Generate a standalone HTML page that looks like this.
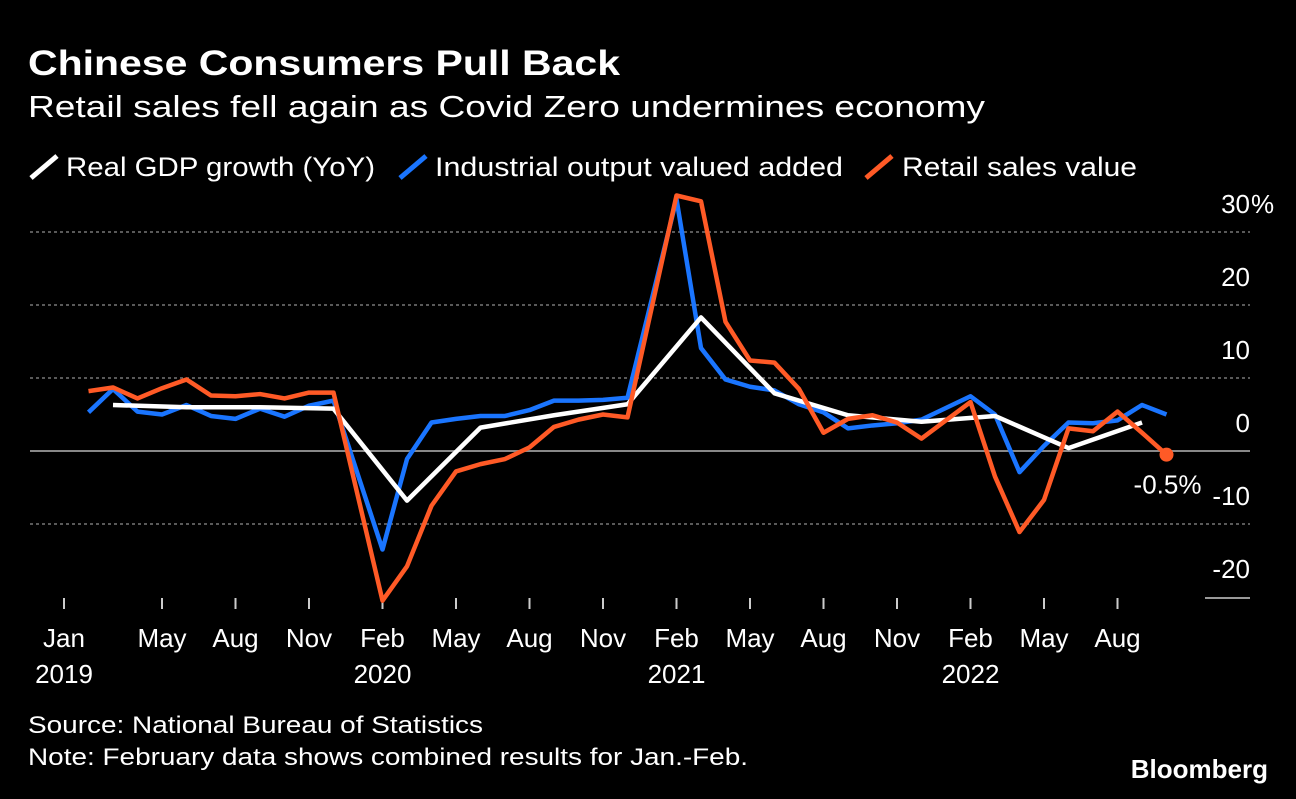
<!DOCTYPE html>
<html><head><meta charset="utf-8"><style>
body{margin:0;background:#000;width:1296px;height:794px;overflow:hidden;font-family:"Liberation Sans",sans-serif;color:#fff}
svg text{font-family:"Liberation Sans",sans-serif;fill:#fff}
</style></head><body>
<svg width="1296" height="794">
<text x="28" y="75" font-size="35" font-weight="bold" textLength="592" lengthAdjust="spacingAndGlyphs">Chinese Consumers Pull Back</text>
<text x="28" y="117" font-size="31" textLength="957" lengthAdjust="spacingAndGlyphs">Retail sales fell again as Covid Zero undermines economy</text>
<g font-size="27">
<line x1="31" y1="178" x2="57" y2="156" stroke="#fff" stroke-width="5"/>
<text x="66" y="176" textLength="309" lengthAdjust="spacingAndGlyphs">Real GDP growth (YoY)</text>
<line x1="400" y1="178" x2="426" y2="156" stroke="#1a75ff" stroke-width="5"/>
<text x="435" y="176" textLength="408" lengthAdjust="spacingAndGlyphs">Industrial output valued added</text>
<line x1="866" y1="178" x2="892" y2="156" stroke="#ff5a26" stroke-width="5"/>
<text x="902" y="176" textLength="235" lengthAdjust="spacingAndGlyphs">Retail sales value</text>
</g>
<g id="grid"></g><g id="xaxis"></g><g id="series"></g>
<text x="28" y="733" font-size="24" fill="#ddd" textLength="455" lengthAdjust="spacingAndGlyphs">Source: National Bureau of Statistics</text>
<text x="28" y="765" font-size="24" fill="#ddd" textLength="720" lengthAdjust="spacingAndGlyphs">Note: February data shows combined results for Jan.-Feb.</text>
<text x="1268" y="778" font-size="26" font-weight="bold" text-anchor="end" fill="#ccc">Bloomberg</text>
</svg>
<script>
const yTicks=[30,20,10,0,-10,-20];
const yTickLabels=["30","20","10","0","-10","-20"];
const xTickMonths=[0,4,7,10,13,16,19,22,25,28,31,34,37,40,43];
const xTickLabels=["Jan","May","Aug","Nov","Feb","May","Aug","Nov","Feb","May","Aug","Nov","Feb","May","Aug"];
const yearLabels=["2019","2020","2021","2022"];
const yearMonths=[0,13,25,37];
// monthly index from Jan 2019 = 0 (January omitted; Feb = combined Jan-Feb)
const monthIdx=[1,2,3,4,5,6,7,8,9,10,11,13,14,15,16,17,18,19,20,21,22,23,25,26,27,28,29,30,31,32,33,34,35,37,38,39,40,41,42,43,44,45];
const industrial=[5.3,8.5,5.4,5.0,6.3,4.8,4.4,5.8,4.7,6.2,6.9,-13.5,-1.1,3.9,4.4,4.8,4.8,5.6,6.9,6.9,7.0,7.3,34.5,14.1,9.8,8.8,8.3,6.4,5.3,3.1,3.5,3.8,4.3,7.5,5.0,-2.9,0.7,3.9,3.8,4.2,6.3,5.0];
const retail=[8.2,8.7,7.2,8.6,9.8,7.6,7.5,7.8,7.2,8.0,8.0,-20.5,-15.8,-7.5,-2.8,-1.8,-1.1,0.5,3.3,4.3,5.0,4.6,35.0,34.2,17.7,12.4,12.1,8.5,2.5,4.4,4.9,3.9,1.7,6.7,-3.5,-11.1,-6.7,3.1,2.7,5.4,2.5,-0.5];
const gdpMonths=[2,5,8,11,14,17,20,23,26,29,32,35,38,41,44];
const gdp=[6.3,6.0,6.0,5.8,-6.8,3.2,4.9,6.4,18.3,7.9,4.9,4.0,4.8,0.4,3.9];
const X=m=>64+m*24.5, Y=v=>451-v*7.3;
const NS="http://www.w3.org/2000/svg";
function mk(tag,attrs,parent,txt){const e=document.createElementNS(NS,tag);for(const k in attrs)e.setAttribute(k,attrs[k]);if(txt!=null)e.textContent=txt;parent.appendChild(e);return e;}
const grid=document.getElementById('grid');
yTicks.forEach((t,i)=>{
  if(t!==-20){const l=mk('line',{x1:30,x2:1250,y1:Y(t),y2:Y(t),stroke:t===0?'#888':'#777','stroke-width':t===0?2:1.5,'stroke-dasharray':t===0?'':'3,3'},grid);
  
  }
  const tx=mk('text',{x:1250,y:Y(t)-19,'font-size':26,'text-anchor':'end'},grid,yTickLabels[i]);
  
  
  if(i===0){const pc=mk('text',{x:1251,y:Y(t)-19,'font-size':26},grid,'%');
  
  }
});
mk('line',{x1:1205,x2:1250,y1:598,y2:598,stroke:'#ccc','stroke-width':1.5},grid);
const xa=document.getElementById('xaxis');
xTickMonths.forEach((m,i)=>{
  const l=mk('line',{x1:X(m),x2:X(m),y1:598,y2:609,stroke:'#ccc','stroke-width':2},xa);
  
  
  const t=mk('text',{x:X(m),y:647,'font-size':26,'text-anchor':'middle'},xa,xTickLabels[i]);
  
  
});
yearMonths.forEach((m,i)=>{
  const t=mk('text',{x:X(m),y:683,'font-size':26,'text-anchor':'middle'},xa,yearLabels[i]);
  
  
});
const s=document.getElementById('series');
function line(xs,vs,col,name){
  const p=mk('polyline',{points:xs.map((m,i)=>X(m)+','+Y(vs[i])).join(' '),fill:'none',stroke:col,'stroke-width':4.5,'stroke-linejoin':'round'},s);
  
  
}
line(monthIdx,industrial,'#1a75ff','industrial-line');
line(gdpMonths,gdp,'#fff','gdp-line');
line(monthIdx,retail,'#ff5a26','retail-line');
const lm=monthIdx[monthIdx.length-1], lv=retail[retail.length-1];
const d=mk('circle',{cx:X(lm),cy:Y(lv),r:7,fill:'#ff5a26'},s);


const lab=mk('text',{x:X(lm)+1,y:Y(lv)+39,'font-size':26,'text-anchor':'middle'},s,lv.toFixed(1)+'%');


</script>
</body></html>
